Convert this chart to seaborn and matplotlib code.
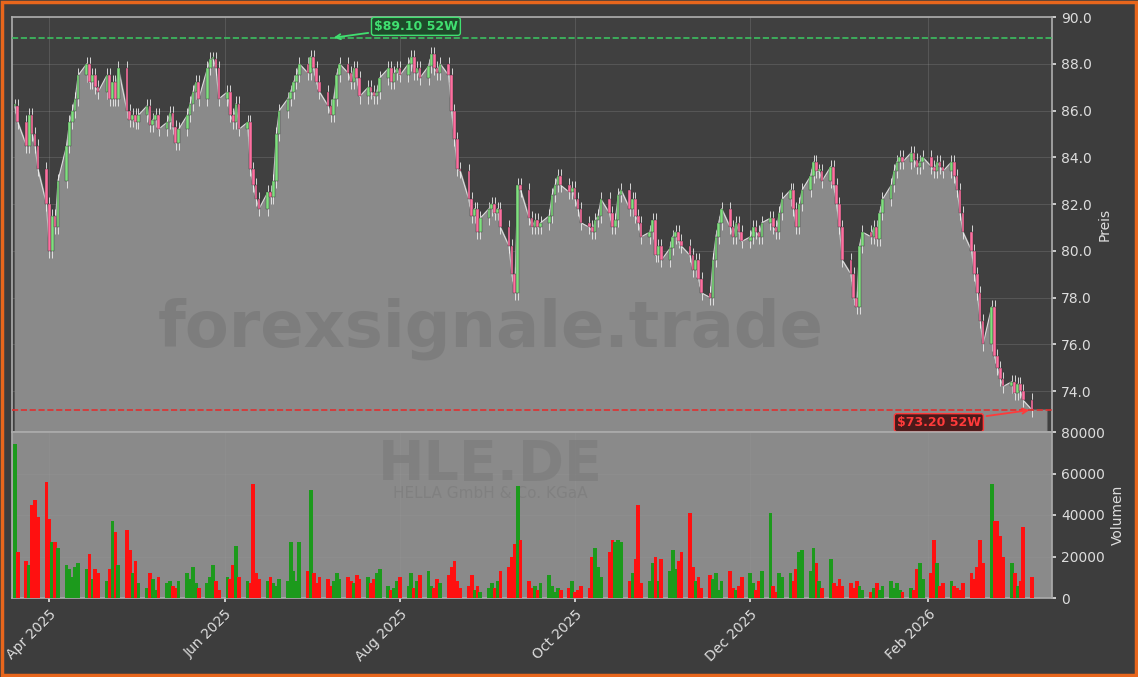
import numpy as np
import pandas as pd
import matplotlib
matplotlib.use("Agg")
import matplotlib.pyplot as plt
import matplotlib.dates as mdates
import seaborn as sns

sns.set_theme(style="dark")
plt.rcParams['font.family'] = ['DejaVu Sans']

# daily closes, one row per week (Mon-Fri), starting 2025-03-24
closes = [
    86.2, 85.5, 84.5, 85.8, 85.0,  84.5, 83.5, 82.0, 80.0, 81.5,
    81.0, 83.0, 84.5, 85.5, 86.0,  86.5, 87.5, 88.0, 87.2, 87.5,
    87.0, 86.8, 87.5, 86.5, 87.2,  86.5, 87.8, 86.0, 85.6, 85.8,
    85.5, 85.8, 86.2, 85.4, 85.6,  85.8, 85.2, 85.5, 85.9, 85.3,
    84.6, 85.2, 85.8, 86.3, 86.8,  87.2, 86.5, 87.8, 88.2, 88.2,
    87.8, 86.5, 86.8, 85.8, 85.5,  86.3, 85.2, 85.5, 83.5, 82.8,
    82.2, 81.8, 82.5, 82.3, 83.0,  85.0, 86.0, 86.5, 86.8, 87.2,
    87.5, 88.0, 87.6, 88.3, 87.8,  87.2, 86.8, 86.2, 85.8, 86.5,
    87.5, 88.0, 87.6, 87.2, 87.8,  87.4, 86.6, 87.0, 86.8, 86.6,
    86.8, 87.4, 87.8, 87.2, 87.6,  87.8, 87.5, 88.0, 88.3, 87.6,
    87.8, 87.4, 87.9, 88.4, 87.8,  87.6, 88.0, 87.5, 86.0, 84.8,
    83.5, 83.4, 82.2, 81.5, 81.8,  80.8, 81.4, 81.8, 82.0, 81.6,
    81.8, 81.0, 80.2, 79.0, 78.2,  82.8, 82.6, 81.4, 81.0, 81.3,
    81.0, 81.2, 81.5, 82.4, 82.8,  83.2, 82.8, 82.5, 82.7, 82.2,
    81.8, 81.2, 81.0, 80.8, 81.3,  81.5, 82.2, 81.6, 81.0, 81.3,
    82.4, 82.6, 81.8, 82.2, 81.5,  81.2, 80.6, 80.8, 81.3, 79.8,
    80.2, 79.6, 80.1, 80.6, 80.8,  80.4, 80.2, 79.8, 79.2, 79.6,
    78.8, 78.2, 78.0, 79.6, 80.6,  81.2, 81.8, 81.0, 80.6, 81.2,
    80.8, 80.4, 80.6, 81.0, 80.8,  80.6, 81.2, 81.4, 81.0, 80.8,
    81.6, 82.2, 82.6, 81.8, 81.0,  82.0, 82.6, 83.2, 83.8, 83.4,
    83.4, 83.0, 83.6, 82.8, 82.0,  81.0, 79.6, 79.0, 78.0, 77.6,
    80.2, 80.8, 80.6, 81.0, 80.5,  81.6, 82.2, 82.8, 83.4, 83.8,
    84.0, 83.8, 84.2, 83.9, 83.6,  83.8, 84.0, 83.6, 83.4, 83.8,
    83.6, 83.4, 83.8, 83.2, 82.6,  81.6, 80.8, 80.0, 79.0, 78.2,
    77.0, 76.0, 77.6, 75.5, 75.0,  74.5, 74.2, 74.4, 73.9, 74.3,
    74.0, 73.6, 73.2,
]

# daily volume in thousands
volumes_k = [
    74, 22, 18, 16, 45, 47, 39, 56, 38, 27,
    27, 24, 16, 14, 10, 15, 17, 14, 21, 9,
    14, 12, 8, 14, 37, 32, 16, 33, 23, 12,
    18, 7, 5, 12, 9, 4, 10, 7, 8, 6,
    5, 8, 12, 9, 15, 7, 5, 7, 10, 16,
    8, 4, 10, 9, 16, 25, 10, 8, 7, 55,
    12, 9, 8, 10, 7, 6, 9, 8, 27, 13,
    8, 27, 13, 52, 12, 7, 10, 9, 6, 8,
    12, 9, 10, 8, 7, 11, 9, 10, 7, 9,
    12, 14, 6, 4, 5, 8, 10, 6, 12, 5,
    8, 11, 13, 6, 5, 9, 7, 11, 15, 18,
    8, 5, 6, 11, 4, 6, 3, 5, 7, 5,
    8, 13, 15, 20, 26, 54, 28, 8, 5, 6,
    4, 7, 11, 6, 3, 5, 4, 5, 8, 3,
    4, 6, 5, 20, 24, 15, 10, 22, 28, 27,
    28, 27, 8, 12, 19, 45, 7, 8, 17, 20,
    8, 19, 13, 23, 14, 18, 22, 41, 15, 8,
    10, 5, 11, 9, 12, 4, 8, 13, 5, 4,
    6, 10, 12, 7, 4, 8, 13, 41, 6, 3,
    12, 10, 12, 8, 14, 22, 23, 13, 24, 17,
    8, 5, 19, 7, 6, 9, 6, 7, 5, 8,
    6, 4, 3, 5, 7, 4, 6, 8, 5, 7,
    4, 3, 5, 4, 14, 17, 9, 12, 28, 17,
    6, 7, 8, 6, 5, 4, 7, 12, 9, 15,
    28, 17, 55, 37, 37, 30, 20, 17, 12, 6,
    8, 34, 10,
]

high_52w = 89.10
high_date = "2025-07-08"
low_52w = 73.20
ticker = "HLE.DE"
company = "HELLA GmbH & Co. KGaA"

dates = pd.bdate_range("2025-03-20", periods=len(closes))
df = pd.DataFrame({"date": dates, "close": closes, "volume": np.array(volumes_k) * 1000})
df["open"] = df["close"].shift(1).fillna(df["close"])
df["up"] = df["close"] >= df["open"]

BG = "#3d3d3d"
FILL = "#8a8a8a"
fig = plt.figure(figsize=(11.38, 6.77), dpi=100, facecolor=BG)
W, H = 1138, 677
ax = fig.add_axes([12 / W, (H - 432) / H, 1040 / W, 415 / H])
axv = fig.add_axes([12 / W, (H - 598) / H, 1040 / W, 166 / H], sharex=ax)
fig.patches.append(plt.Rectangle((0.002, 0.003), 0.996, 0.994, transform=fig.transFigure,
                                 fill=False, ec="#e8661c", lw=2.5))

ax.set_facecolor("#404040")
x = mdates.date2num(df["date"])
xend = x[-1] + 5
ax.fill_between(np.append(x, xend), np.append(df["close"], low_52w), 60, color=FILL, zorder=1)
ax.plot(x, df["close"], color="#dddddd", lw=0.8, zorder=2)
for xi, o, c, up in zip(x, df["open"], df["close"], df["up"]):
    col = "#7fe07f" if up else "#ff6fa0"
    lo, hi = min(o, c), max(o, c)
    ax.vlines(xi, lo - 0.3, hi + 0.3, color="#eeeeee", lw=0.6, zorder=3)
    ax.bar(xi, max(hi - lo, 0.08), bottom=lo, width=0.9, color=col, ec="#333333", lw=0.3, zorder=4)

ax.axhline(high_52w, color="#3cc060", ls="--", lw=1.2, zorder=5)
ax.axhline(low_52w, color="#e03030", ls="--", lw=1.2, zorder=5)
xh = mdates.date2num(pd.Timestamp(high_date))
ax.annotate(f"${high_52w:.2f} 52W", xy=(xh, high_52w), xytext=(xh + 15, 89.6),
            color="#40e070", fontsize=9, fontweight="bold", va="center",
            bbox=dict(boxstyle="round,pad=0.2", fc="#1e4a2a", ec="#40e070"),
            arrowprops=dict(arrowstyle="->", color="#40e070", lw=1.3), zorder=6)
ax.annotate(f"${low_52w:.2f} 52W", xy=(x[-1], low_52w), xytext=(x[-1] - 47, 72.65),
            color="#ff3a3a", fontsize=9, fontweight="bold", va="center",
            bbox=dict(boxstyle="round,pad=0.2", fc="#4a1a1a", ec="#ff3a3a"),
            arrowprops=dict(arrowstyle="->", color="#ff3a3a", lw=1.3), zorder=6)

ax.text(0.46, 0.25, "forexsignale.trade", transform=ax.transAxes, ha="center", va="center",
        fontsize=46, fontweight="bold", color="#666666", alpha=0.35, zorder=2)

ax.set_ylim(72.25, 90)
ax.set_yticks(np.arange(74, 90.1, 2))
ax.yaxis.set_major_formatter(matplotlib.ticker.FormatStrFormatter("%.1f"))
ax.set_xlim(x[0] - 1, xend + 2)

axv.set_facecolor(FILL)
vcol = np.where(df["up"], "#1c9a1c", "#ff1010")
axv.bar(x, df["volume"], width=1.3, color=vcol, ec="none", lw=0, zorder=3)
axv.text(0.46, 0.8, ticker, transform=axv.transAxes, ha="center", va="center",
         fontsize=40, fontweight="bold", color="#777777", alpha=0.5, zorder=1)
axv.text(0.46, 0.63, company, transform=axv.transAxes, ha="center", va="center",
         fontsize=11, color="#777777", alpha=0.5, zorder=1)
axv.set_ylim(0, 80000)
axv.set_yticks(np.arange(0, 80001, 20000))

for a, lab in ((ax, "Preis"), (axv, "Volumen")):
    a.yaxis.tick_right()
    a.yaxis.set_label_position("right")
    a.set_ylabel(lab, color="#dddddd", fontsize=10)
    a.tick_params(colors="#dddddd", labelsize=10, length=3, right=True, bottom=True)
    a.grid(True, color="#999999", alpha=0.3, lw=0.6)
    for s in a.spines.values():
        s.set_color("#aaaaaa")
plt.setp(ax.get_xticklabels(), visible=False)
axv.xaxis.set_major_locator(mdates.MonthLocator(bymonth=[4, 6, 8, 10, 12, 2]))
axv.xaxis.set_major_formatter(mdates.DateFormatter("%b %Y"))
plt.setp(axv.get_xticklabels(), rotation=45, ha="right", rotation_mode="anchor")

fig.savefig("out.png", dpi=100, facecolor=BG)
